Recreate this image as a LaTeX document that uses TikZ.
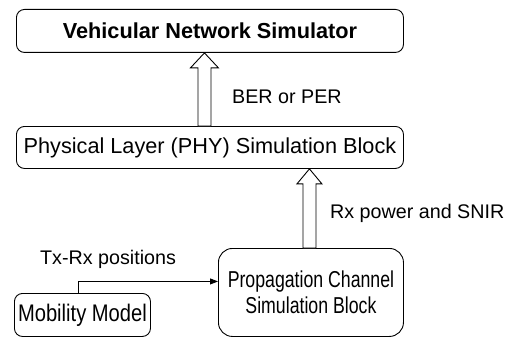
\documentclass[tikz,border=0pt]{standalone}
\usepackage{fontspec}
\setmainfont{Liberation Sans}
\newfontfamily\condprop[FakeStretch=0.77]{Liberation Sans}
\newfontfamily\condmob[FakeStretch=0.84]{Liberation Sans}
\usetikzlibrary{calc,arrows.meta}
\begin{document}
\begin{tikzpicture}[x=1pt,y=-1pt,
  box/.style={draw, rounded corners=8pt, line width=0.9pt, inner sep=0pt, anchor=north west},
  hollow/.style={draw, line width=0.9pt, fill=white},
  lbl/.style={anchor=west, inner sep=0pt, font=\fontsize{19.7}{23}\selectfont},
  link/.style={draw, line width=0.9pt, -{Triangle[length=8pt,width=6pt]}}]
\useasboundingbox (0,0) rectangle (511,337);
\node[box, minimum width=387pt, minimum height=43pt] (vns) at (16,9)
  {\fontsize{21.7}{25}\selectfont\bfseries Vehicular Network Simulator};
\node[box, minimum width=387pt, minimum height=42pt] (phy) at (16,126)
  {\fontsize{21.7}{25}\selectfont Physical Layer (PHY) Simulation Block};
\node[box, rounded corners=14pt, minimum width=185pt, minimum height=88pt, align=center,
  font=\condprop\fontsize{23}{26}\selectfont] (prop) at (218,248)
  {Propagation Channel\\Simulation Block};
\node[box, minimum width=136pt, minimum height=43pt] (mob) at (14,293)
  {\condmob\fontsize{24}{27}\selectfont Mobility Model};
% hollow arrows
\coordinate (a1t) at ($(vns.south)+(-5.5,0)$);
\coordinate (a1b) at (a1t |- phy.north);
\draw[hollow] let \p1=(a1t), \p2=(a1b) in
  (\x1,\y1) -- (\x1+14pt,\y1-15pt) -- (\x1+6.5pt,\y1-15pt) -- (\x1+6.5pt,\y2)
  -- (\x1-6.5pt,\y2) -- (\x1-6.5pt,\y1-15pt) -- (\x1-14pt,\y1-15pt) -- cycle;
\coordinate (a2t) at ($(prop.north |- phy.south)+(-1.5,0)$);
\coordinate (a2b) at (a2t |- prop.north);
\draw[hollow] let \p1=(a2t), \p2=(a2b) in
  (\x1,\y1) -- (\x1+12.5pt,\y1-15pt) -- (\x1+6.5pt,\y1-15pt) -- (\x1+6.5pt,\y2)
  -- (\x1-6.5pt,\y2) -- (\x1-6.5pt,\y1-15pt) -- (\x1-12.5pt,\y1-15pt) -- cycle;
% mobility link
\coordinate (m1) at ($(mob.north)+(-4,0)$);
\coordinate (p1) at ($(prop.west)+(0,-11)$);
\draw[link] (m1) |- (p1);
% labels
\node[lbl] (l1) at (232,97) {BER or PER};
\node[lbl] (l2) at (330,213) {Rx power and SNIR};
\node[lbl] (l3) at (40,259) {Tx-Rx positions};
\end{tikzpicture}
\end{document}
